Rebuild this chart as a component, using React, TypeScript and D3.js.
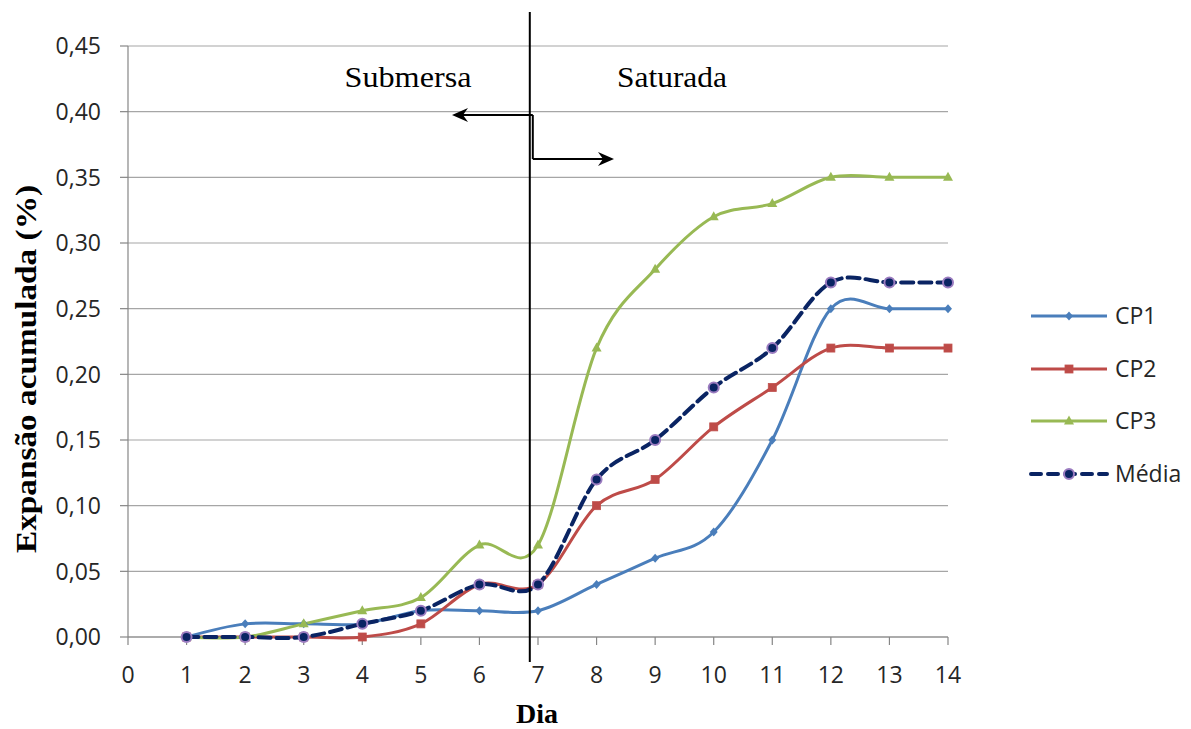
import React from "react";
import * as d3 from "d3";

const days = [1, 2, 3, 4, 5, 6, 7, 8, 9, 10, 11, 12, 13, 14];
const cp1 = [0, 0.01, 0.01, 0.01, 0.02, 0.02, 0.02, 0.04, 0.06, 0.08, 0.15, 0.25, 0.25, 0.25];
const cp2 = [0, 0, 0, 0, 0.01, 0.04, 0.04, 0.1, 0.12, 0.16, 0.19, 0.22, 0.22, 0.22];
const cp3 = [0, 0, 0.01, 0.02, 0.03, 0.07, 0.07, 0.22, 0.28, 0.32, 0.33, 0.35, 0.35, 0.35];
const media = [0, 0, 0, 0.01, 0.02, 0.04, 0.04, 0.12, 0.15, 0.19, 0.22, 0.27, 0.27, 0.27];
const xTicks = d3.range(0, 15);
const yTicks = d3.range(0, 10).map((i) => i * 0.05);
const seriesNames = ["CP1", "CP2", "CP3", "Média"];
const boundaryDay = 6.86;

const W = 1191;
const H = 729;
const left = 128;
const right = 948;
const top = 46;
const bottom = 637;

const sans = "'Open Sans', 'Liberation Sans', sans-serif";
const serif = "'Liberation Serif', 'DejaVu Serif', serif";
const fmt = (v: number) => v.toFixed(2).replace(".", ",");

export default function App() {
  const x = d3.scaleLinear().domain([0, 14]).range([left, right]);
  const y = d3.scaleLinear().domain([0, 0.45]).range([bottom, top]);
  const line = d3
    .line<number>()
    .x((_, i) => x(days[i]))
    .y((d) => y(d))
    .curve(d3.curveCatmullRom.alpha(0));

  const series = [
    { name: seriesNames[0], values: cp1, color: "#4a7ebb", marker: "diamond" },
    { name: seriesNames[1], values: cp2, color: "#be4b48", marker: "square" },
    { name: seriesNames[2], values: cp3, color: "#98b954", marker: "triangle" },
    { name: seriesNames[3], values: media, color: "#0a2463", marker: "circle" },
  ];

  const marker = (type: string, cx: number, cy: number, color: string, key: string) => {
    if (type === "diamond")
      return (
        <path key={key} d={`M${cx},${cy - 4.5}L${cx + 4},${cy}L${cx},${cy + 4.5}L${cx - 4},${cy}Z`} fill={color} />
      );
    if (type === "square")
      return <rect key={key} x={cx - 4} y={cy - 4} width={8} height={8} fill={color} stroke="#c0504d" strokeWidth={0.8} />;
    if (type === "triangle")
      return <path key={key} d={`M${cx},${cy - 5.5}L${cx + 5},${cy + 3.5}L${cx - 5},${cy + 3.5}Z`} fill={color} />;
    return <circle key={key} cx={cx} cy={cy} r={5} fill="#0a2463" stroke="#9b7cc0" strokeWidth={2} />;
  };

  const bx = x(boundaryDay);
  const legendY = [316, 369, 421, 474];

  return (
    <svg width={W} height={H} style={{ display: "block", position: "absolute", left: 0, top: 0, background: "#fff" }}>
      {/* horizontal gridlines */}
      {yTicks.map((t) => (
        <line key={"g" + t} x1={left} x2={right} y1={y(t)} y2={y(t)} stroke="#a6a6a6" strokeWidth={1.2} />
      ))}
      {/* y axis */}
      <line x1={left} x2={left} y1={top} y2={bottom} stroke="#868686" strokeWidth={1.2} />
      {yTicks.map((t) => (
        <g key={"yt" + t}>
          <line x1={left - 8} x2={left} y1={y(t)} y2={y(t)} stroke="#868686" strokeWidth={1.2} />
          <text x={101} y={y(t)} dy="0.36em" textAnchor="end" fontFamily={sans} fontSize={23} fill="#262626">
            {fmt(t)}
          </text>
        </g>
      ))}
      {/* x axis */}
      {xTicks.map((t) => (
        <g key={"xt" + t}>
          <line x1={x(t)} x2={x(t)} y1={bottom} y2={bottom + 8} stroke="#868686" strokeWidth={1.2} />
          <text x={x(t)} y={bottom + 46} textAnchor="middle" fontFamily={sans} fontSize={23} fill="#262626">
            {t}
          </text>
        </g>
      ))}
      <line x1={left} x2={right} y1={bottom} y2={bottom} stroke="#868686" strokeWidth={1.2} />

      {/* data series */}
      {series.map((s) => (
        <path
          key={"l" + s.name}
          d={line(s.values) || ""}
          fill="none"
          stroke={s.color}
          strokeWidth={s.marker === "circle" ? 4 : 3}
          strokeDasharray={s.marker === "circle" ? "12 6" : undefined}
          strokeLinecap={s.marker === "circle" ? "round" : "butt"}
        />
      ))}
      {series.map((s) => s.values.map((v, i) => marker(s.marker, x(days[i]), y(v), s.color, s.name + i)))}

      {/* phase boundary and arrows */}
      <line x1={bx} x2={bx} y1={12} y2={662} stroke="#000" strokeWidth={2} />
      <line x1={bx} x2={bx + 3} y1={115} y2={115} stroke="#000" strokeWidth={2} />
      <line x1={bx + 3} x2={bx + 3} y1={115} y2={159} stroke="#000" strokeWidth={2} />
      <line x1={bx} x2={456} y1={115} y2={115} stroke="#000" strokeWidth={2} />
      <path d={`M452,115L468,108L463,115L468,122Z`} fill="#000" />
      <line x1={bx + 3} x2={610} y1={159} y2={159} stroke="#000" strokeWidth={2} />
      <path d={`M614,159L598,152L603,159L598,166Z`} fill="#000" />
      <text
        x={408}
        y={87}
        textAnchor="middle"
        fontFamily={serif}
        fontSize={29}
        fill="#000"
        textLength={127}
        lengthAdjust="spacingAndGlyphs"
      >
        Submersa
      </text>
      <text
        x={672}
        y={87}
        textAnchor="middle"
        fontFamily={serif}
        fontSize={29}
        fill="#000"
        textLength={110}
        lengthAdjust="spacingAndGlyphs"
      >
        Saturada
      </text>

      {/* axis titles */}
      <text
        transform={`translate(36,369) rotate(-90)`}
        textAnchor="middle"
        fontFamily={serif}
        fontWeight="bold"
        fontSize={29}
        fill="#000"
        textLength={368}
        lengthAdjust="spacingAndGlyphs"
      >
        Expansão acumulada (%)
      </text>
      <text x={537} y={723} textAnchor="middle" fontFamily={serif} fontWeight="bold" fontSize={28} fill="#000">
        Dia
      </text>

      {/* legend */}
      {series.map((s, i) => (
        <g key={"lg" + s.name}>
          <line
            x1={1031}
            x2={1107}
            y1={legendY[i]}
            y2={legendY[i]}
            stroke={s.color}
            strokeWidth={s.marker === "circle" ? 4 : 3}
            strokeDasharray={s.marker === "circle" ? "10 7" : undefined}
            strokeLinecap={s.marker === "circle" ? "round" : "butt"}
          />
          {marker(s.marker, 1069, legendY[i], s.color, "lm" + s.name)}
          <text x={1115} y={legendY[i]} dy="0.36em" fontFamily={sans} fontSize={23} fill="#262626">
            {s.name}
          </text>
        </g>
      ))}
    </svg>
  );
}
